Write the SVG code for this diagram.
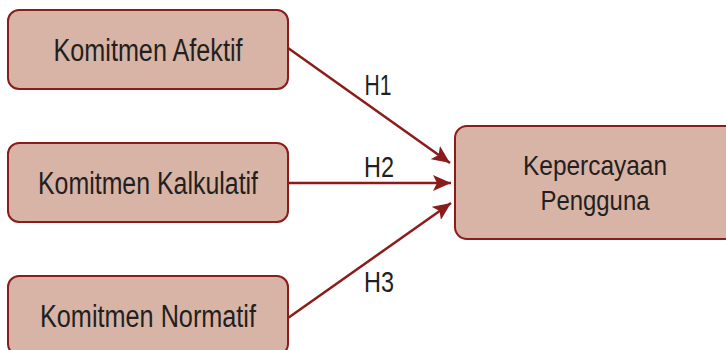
<svg xmlns="http://www.w3.org/2000/svg" width="726" height="350" viewBox="0 0 726 350">
<defs>
<style>
.box{fill:#D7B4A6;stroke:#8B1C1C;stroke-width:2}
.lbl{font-family:"Liberation Sans",Arial,sans-serif;fill:#231F20;text-anchor:middle}
.conn{stroke:#8B1C1C;stroke-width:2.5;fill:none}
</style>
<marker id="ah" markerUnits="userSpaceOnUse" markerWidth="20" markerHeight="16" refX="18" refY="8" orient="auto">
<path d="M0,0 L18,8 L0,16 L4,8 z" fill="#8B1C1C"/>
</marker>
</defs>
<rect width="726" height="350" fill="#FFFFFF"/>
<g id="connectors">
<line class="conn" x1="288" y1="48" x2="450" y2="163" marker-end="url(#ah)"/>
<line class="conn" x1="288" y1="183" x2="451" y2="183" marker-end="url(#ah)"/>
<line class="conn" x1="288" y1="318" x2="451" y2="203" marker-end="url(#ah)"/>
<text class="lbl" x="378" y="95" font-size="30" textLength="27" lengthAdjust="spacingAndGlyphs">H1</text>
<text class="lbl" x="379" y="177" font-size="30" textLength="30" lengthAdjust="spacingAndGlyphs">H2</text>
<text class="lbl" x="379" y="292" font-size="30" textLength="30" lengthAdjust="spacingAndGlyphs">H3</text>
</g>
<g id="afektif">
<rect class="box" x="8" y="10" width="280" height="79" rx="11"/>
<text class="lbl" x="148" y="61" font-size="31" textLength="189" lengthAdjust="spacingAndGlyphs">Komitmen Afektif</text>
</g>
<g id="kalkulatif">
<rect class="box" x="8" y="143" width="280" height="79" rx="11"/>
<text class="lbl" x="148" y="194" font-size="31" textLength="220" lengthAdjust="spacingAndGlyphs">Komitmen Kalkulatif</text>
</g>
<g id="normatif">
<rect class="box" x="8" y="276" width="280" height="79" rx="11"/>
<text class="lbl" x="148" y="327" font-size="31" textLength="216" lengthAdjust="spacingAndGlyphs">Komitmen Normatif</text>
</g>
<g id="kepercayaan">
<rect class="box" x="455" y="126" width="285" height="113" rx="12"/>
<text class="lbl" x="595" y="175" font-size="28" textLength="144" lengthAdjust="spacingAndGlyphs">Kepercayaan</text>
<text class="lbl" x="595" y="210" font-size="28" textLength="109" lengthAdjust="spacingAndGlyphs">Pengguna</text>
</g>
</svg>
